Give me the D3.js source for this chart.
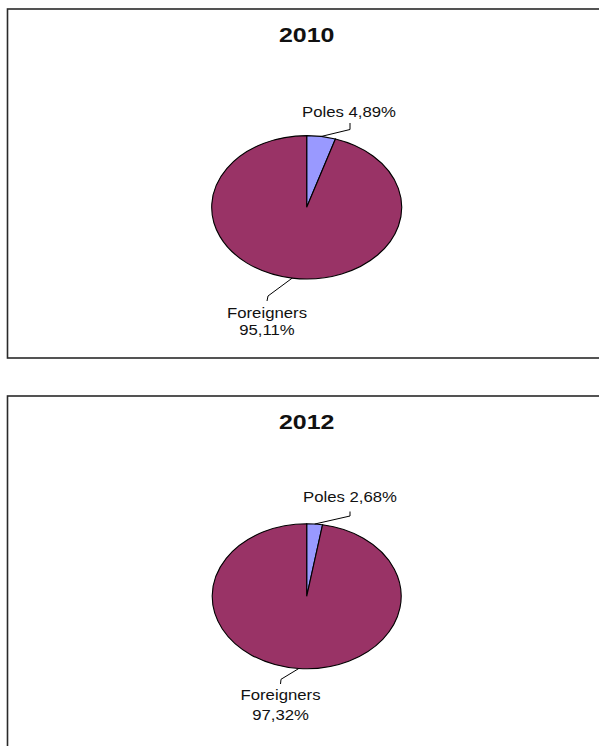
<!DOCTYPE html>
<html>
<head>
<meta charset="utf-8">
<script src="https://cdn.jsdelivr.net/npm/d3@7"></script>
<style>
  html, body { margin: 0; padding: 0; background: #fff; }
  svg { display: block; }
  text { font-family: "Liberation Sans", Arial, sans-serif; fill: #111; }
</style>
</head>
<body>
<svg id="chart" width="599" height="746"></svg>
<script>
// Share of employees by origin, one pie per year
const years = ["2010", "2012"];
const categories = ["Poles", "Foreigners"];
const shares2010 = [4.89, 95.11];
const shares2012 = [2.68, 97.32];
const seriesValues = [shares2010, shares2012];

const colors = { "Poles": "#9999ff", "Foreigners": "#993366" };

// Panel geometry (frame, pie centre, ellipse radii, label anchors)
const panels = [
  { top: 9, height: 349, cy: 198.3, rx: 95, ry: 71.7,
    labels: {
      "Poles":      { elbow: [350, 129.5], end: [350, 123], text: [349, 116.7], lines: 1 },
      "Foreigners": { elbow: [268, 296],   end: [267, 301], text: [267, 318.3], lines: 2, gap: 16.5 }
    } },
  { top: 396, height: 360, cy: 200.3, rx: 94.5, ry: 72.5,
    labels: {
      "Poles":      { elbow: [350, 516],   end: [350, 511.5], text: [350, 502.3], lines: 1 },
      "Foreigners": { elbow: [281, 679.3], end: [280.5, 684], text: [280.5, 700], lines: 2, gap: 20 }
    } }
];

const cx = 306.7;
const frameLeft = 7.5;

const svg = d3.select("#chart");
const fmt = v => v.toFixed(2).replace(".", ",") + "%";

const pie = d3.pie().sort(null).value(d => d.value).startAngle(0).endAngle(2 * Math.PI);

panels.forEach((p, i) => {
  const g = svg.append("g");
  const data = categories.map((c, k) => ({ name: c, value: seriesValues[i][k] }));

  // frame
  g.append("rect")
    .attr("x", frameLeft).attr("y", p.top)
    .attr("width", 620).attr("height", p.height)
    .attr("fill", "none").attr("stroke", "#2a2a2a").attr("stroke-width", 1.6);

  // title
  g.append("text")
    .attr("transform", `translate(${cx},${p.top + 32.7}) scale(1.28,1)`)
    .attr("text-anchor", "middle")
    .style("font-weight", "bold").style("font-size", "19.5px")
    .text(years[i]);

  const cy = p.top + p.cy;
  const arc = d3.arc().innerRadius(0).outerRadius(p.rx);

  // slices drawn on a circle, flattened into an ellipse
  const pg = g.append("g")
    .attr("transform", `translate(${cx},${cy}) scale(1,${p.ry / p.rx})`);
  const arcs = pie(data);
  pg.selectAll("path").data(arcs).enter().append("path")
    .attr("d", arc)
    .attr("fill", d => colors[d.data.name])
    .attr("stroke", "#000").attr("stroke-width", 1.1)
    .attr("vector-effect", "non-scaling-stroke");

  // leader lines and labels
  arcs.forEach(a => {
    const L = p.labels[a.data.name];
    const mid = (a.startAngle + a.endAngle) / 2;
    const sx = cx + p.rx * Math.sin(mid);
    const sy = cy - p.ry * Math.cos(mid);
    g.append("polyline")
      .attr("points", [[sx, sy], L.elbow, L.end].map(q => q.join(",")).join(" "))
      .attr("fill", "none").attr("stroke", "#000").attr("stroke-width", 1);

    if (L.lines === 1) {
      g.append("text")
        .attr("transform", `translate(${L.text[0]},${L.text[1]}) scale(1.08,1)`)
        .attr("text-anchor", "middle").style("font-size", "15.5px")
        .text(`${a.data.name} ${fmt(a.data.value)}`);
    } else {
      g.append("text")
        .attr("transform", `translate(${L.text[0]},${L.text[1]}) scale(1.08,1)`)
        .attr("text-anchor", "middle").style("font-size", "15.5px")
        .text(a.data.name);
      g.append("text")
        .attr("transform", `translate(${L.text[0]},${L.text[1] + L.gap}) scale(1.08,1)`)
        .attr("text-anchor", "middle").style("font-size", "15.5px")
        .text(fmt(a.data.value));
    }
  });
});
</script>
</body>
</html>
